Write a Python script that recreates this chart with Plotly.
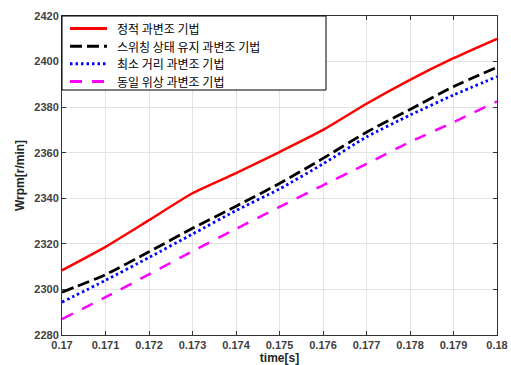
import plotly.graph_objects as go

# time axis samples [s]
time_s = [0.170, 0.171, 0.172, 0.173, 0.174, 0.175, 0.176, 0.177, 0.178, 0.179, 0.180]

# rotor speed [r/min] for each overmodulation method
static_om = [2308.4, 2318.7, 2330.4, 2342.2, 2351.0, 2360.3, 2370.0, 2381.5, 2392.0, 2401.5, 2410.0]
switch_hold_om = [2298.8, 2306.5, 2316.5, 2326.8, 2336.5, 2346.5, 2357.5, 2369.0, 2379.0, 2389.0, 2397.5]
min_dist_om = [2294.4, 2304.0, 2314.0, 2324.3, 2334.6, 2344.1, 2355.1, 2366.9, 2376.5, 2385.3, 2393.4]
same_phase_om = [2287.0, 2296.6, 2306.6, 2316.8, 2326.6, 2336.2, 2345.7, 2355.1, 2364.7, 2373.4, 2382.5]

names = ["정적 과변조 기법", "스위칭 상태 유지 과변조 기법", "최소 거리 과변조 기법", "동일 위상 과변조 기법"]
series = [static_om, switch_hold_om, min_dist_om, same_phase_om]
colors = ["#ff0000", "#000000", "#0000ff", "#ff00ff"]
dashes = ["solid", "12px,5px", "2.5px,3px", "12px,10px"]
widths = [2.5, 2.8, 2.8, 2.5]

x_ticks = [0.170, 0.171, 0.172, 0.173, 0.174, 0.175, 0.176, 0.177, 0.178, 0.179, 0.180]
x_tick_text = ["0.17", "0.171", "0.172", "0.173", "0.174", "0.175", "0.176", "0.177", "0.178", "0.179", "0.18"]
y_ticks = [2280, 2300, 2320, 2340, 2360, 2380, 2400, 2420]

# figure geometry (px)
W, H = 511, 365
ML, MR, MT, MB = 62, 14, 16, 30
PW, PH = W - ML - MR, H - MT - MB


def px_to_paper(px, py):
    return (px - ML) / PW, (H - MB - py) / PH


fig = go.Figure()
for name, ys, c, d, w in zip(names, series, colors, dashes, widths):
    fig.add_trace(go.Scatter(
        x=time_s, y=ys, name=name, mode="lines", showlegend=False,
        line=dict(color=c, dash=d, width=w, shape="spline", smoothing=0.6),
    ))

# boxed key in the upper-left corner of the axes
KEY_FONT = 12
row_gap = 17.6
key_mid = 55
box_x1, box_y1 = px_to_paper(326, 90)
fig.add_shape(type="rect", xref="paper", yref="paper", x0=0, y0=box_y1, x1=box_x1, y1=1,
              line=dict(color="#000000", width=1), fillcolor="white", layer="above")
for i, (name, c, d) in enumerate(zip(names, colors, dashes)):
    py = key_mid + (i - 1.5) * row_gap
    sx0, sy = px_to_paper(70, py)
    sx1, _ = px_to_paper(107, py)
    fig.add_shape(type="line", xref="paper", yref="paper", x0=sx0, y0=sy, x1=sx1, y1=sy,
                  line=dict(color=c, dash=d, width=3), layer="above")
    tx, _ = px_to_paper(116, py)
    fig.add_annotation(xref="paper", yref="paper", x=tx, y=sy, xanchor="left", yanchor="middle",
                       text=name, showarrow=False, borderpad=0,
                       font=dict(family="Noto Sans CJK KR", size=KEY_FONT, color="#000000"))

tick_font = dict(family="Liberation Sans, Arial", size=11, color="#404040", weight="bold")
title_font = dict(family="Liberation Sans, Arial", size=12, color="#262626", weight="bold")
axis_common = dict(
    showline=True, linecolor="#333333", linewidth=1, mirror="ticks",
    ticks="inside", ticklen=4, tickcolor="#333333",
    showgrid=True, gridcolor="#e3e3e3", gridwidth=1,
    zeroline=False, tickfont=tick_font, automargin=False,
)

fig.update_xaxes(
    range=[0.170, 0.180], tickvals=x_ticks, ticktext=x_tick_text,
    title=dict(text="time[s]", font=title_font, standoff=0),
    **axis_common,
)
fig.update_yaxes(
    range=[2280, 2420], tickvals=y_ticks,
    title=dict(text="Wrpm[r/min]", font=title_font, standoff=7),
    **axis_common,
)

fig.update_layout(
    width=W, height=H,
    margin=dict(l=ML, r=MR, t=MT, b=MB, autoexpand=False),
    paper_bgcolor="white", plot_bgcolor="white",
    showlegend=False,
)

fig.write_html("out.html")
